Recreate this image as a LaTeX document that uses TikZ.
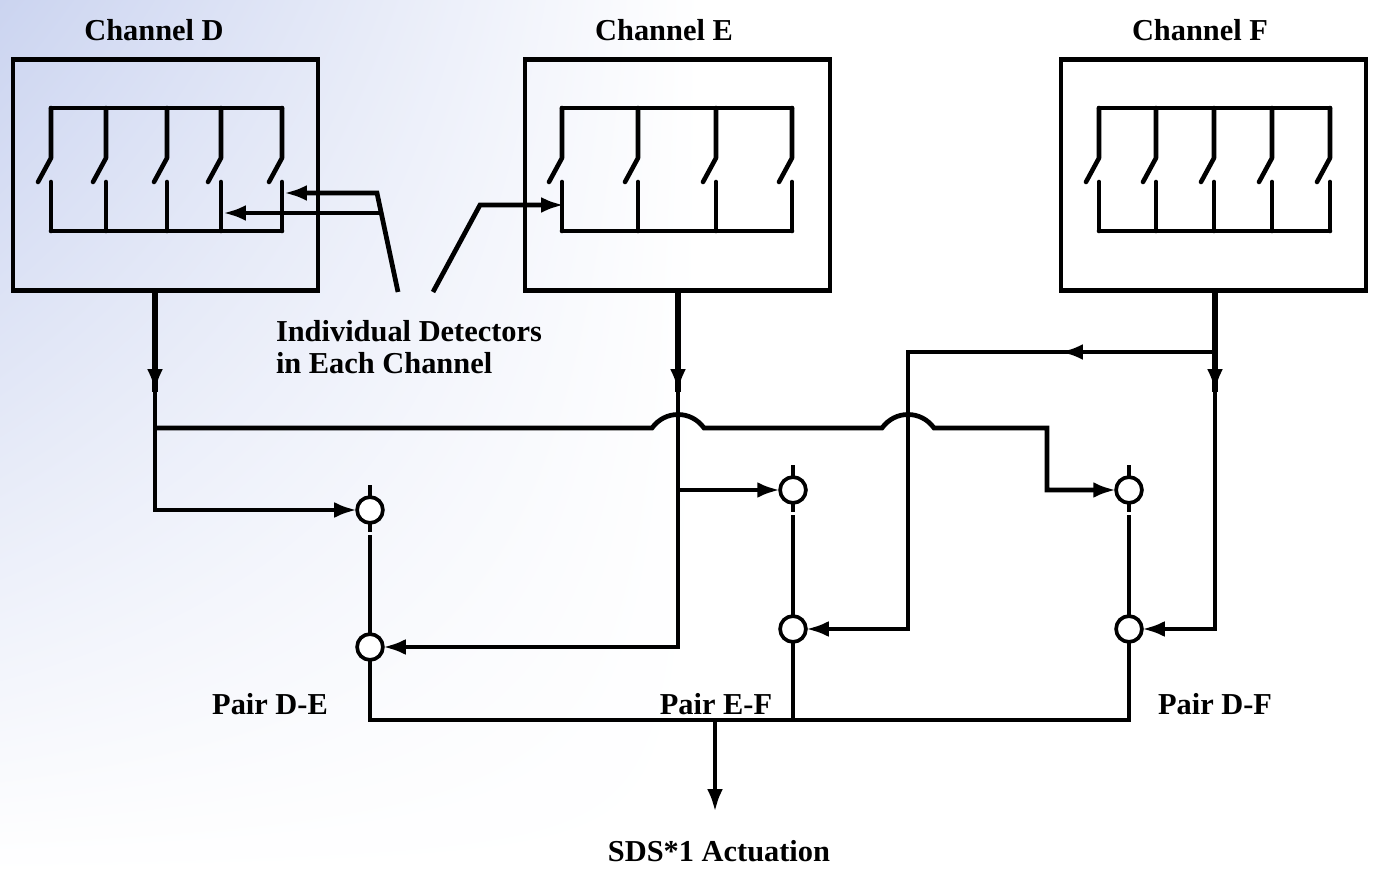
\documentclass[tikz,border=0pt]{standalone}
\usepackage{fontspec}
\setmainfont{Liberation Serif}
\usetikzlibrary{arrows.meta,shadings}

\definecolor{bgblue}{RGB}{203,212,240}

\begin{document}
\begin{tikzpicture}
[x=0.02cm,y=-0.02cm,
 every node/.style={inner sep=0mm,outer sep=0mm},
 lbl/.style={font=\fontsize{17.3}{17.8}\selectfont\bfseries},
 chbox/.style={rectangle,draw,line width=2.4pt,minimum width=174pt,minimum height=131.5pt},
 contact/.style={circle,draw,fill=white,line width=2.1pt,minimum size=14.7pt},
 wire/.style={line width=2.7pt},
 drop/.style={line width=3.6pt},
 swire/.style={line width=2.6pt,line cap=round,line join=round},
 thinwire/.style={line width=2.2pt},
 tip/.style={-{Latex[length=13pt,width=9pt]}}]
\useasboundingbox (0,0) rectangle (1373,874);
\shade[upper left=bgblue,upper right=white,lower left=white,lower right=white] (0,0) rectangle (700,874);

% channels
\node[chbox] (boxD) at (165.5,175) {};
\node[chbox] (boxE) at (677.5,175) {};
\node[chbox] (boxF) at (1213.5,175) {};
\node[lbl] (labD) at (154,30)  {Channel D};
\node[lbl] (labE) at (664,30)  {Channel E};
\node[lbl] (labF) at (1200,30) {Channel F};

% detector switches
\foreach \xa/\xb/\sw in {51/282/{51,106,167,221,282},562/792/{562,638,716,792},1099/1330/{1099,1156,1214,1272,1330}}{
  \draw[swire] (\xa,108) -- (\xb,108);
  \draw[swire] (\xa,231) -- (\xb,231);
  \foreach \x in \sw {
    \draw[swire] (\x,108) -- (\x,158) -- (\x-13,182);
    \draw[swire] (\x,182) -- (\x,231);
  }
}

% pointers to the detectors
\coordinate (swD4) at (223,213);
\coordinate (swD5) at (284,193);
\coordinate (swE1) at (564,205);
\coordinate (ptA)  at (398,292);
\coordinate (ptB)  at (377,193);
\coordinate (ptC)  at (381,213);
\coordinate (ptD)  at (433,292);
\coordinate (ptE)  at (480,205);
\draw[wire,tip] (ptA) -- (ptB) -- (swD5);
\draw[wire,tip] (ptC) -- (swD4);
\draw[wire,tip] (ptD) -- (ptE) -- (swE1);
\node[lbl,align=left,anchor=west] (labDet) at (276,347) {Individual Detectors\\in Each Channel};

% coincidence contacts
\node[contact] (deT) at (370,510) {};
\node[contact] (deB) at (370,647) {};
\node[contact] (efT) at (793,490) {};
\node[contact] (efB) at (793,629) {};
\node[contact] (dfT) at (1129,490) {};
\node[contact] (dfB) at (1129,629) {};
\foreach \c/\d in {deT/deB,efT/efB,dfT/dfB}{
  \draw[thinwire] (\c.north) -- ++(0,-12);
  \draw[thinwire] (\c.south) -- ++(0,9);
  \draw[thinwire,shorten <=7pt] (\c.south) -- (\d.north);
}

% channel outputs
\coordinate (dD0) at (155,291);
\coordinate (dD1) at (155,392);
\coordinate (dD2) at (155,428);
\coordinate (eE0) at (678,291);
\coordinate (eE1) at (678,392);
\coordinate (eE2) at (678,490);
\coordinate (fF0) at (1215,291);
\coordinate (fF1) at (1215,392);
\coordinate (fF2) at (1215,352);
\coordinate (lp0) at (908,352);
\coordinate (lp1) at (1060,352);
\coordinate (hopEa) at (652,428);
\coordinate (hopEb) at (704,428);
\coordinate (hopFa) at (882,428);
\coordinate (hopFb) at (934,428);
\coordinate (busT) at (1047,428);

\draw[drop] (dD0) -- (dD1);
\draw[wire,tip] (dD0) |- (deT);
\draw[wire,tip] (dD0) -- (dD1);
\draw[wire,tip] (dD2) -- (hopEa) .. controls +(13,-18) and +(-13,-18) .. (hopEb)
  -- (hopFa) .. controls +(13,-18) and +(-13,-18) .. (hopFb) -- (busT) |- (dfT);

\draw[drop] (eE0) -- (eE1);
\draw[wire,tip] (eE0) |- (deB);
\draw[wire,tip] (eE0) -- (eE1);
\draw[wire,tip] (eE2) -- (efT);

\draw[drop] (fF0) -- (fF1);
\draw[wire,tip] (fF0) |- (dfB);
\draw[wire,tip] (fF0) -- (fF1);
\draw[wire,tip] (fF2) -- (lp1);
\draw[wire,tip] (fF2) -- (lp0) |- (efB);

% actuation
\coordinate (busL) at (370,720);
\coordinate (busR) at (1129,720);
\coordinate (busM) at (793,720);
\coordinate (out0) at (715,720);
\coordinate (out1) at (715,812);
\draw[wire] (deB.south) -- (busL) -- (busR) -- (dfB.south);
\draw[wire] (efB.south) -- (busM);
\draw[wire,tip] (out0) -- (out1);

\node[lbl] (labDE) at (270,704)  {Pair D-E};
\node[lbl] (labEF) at (716,704)  {Pair E-F};
\node[lbl] (labDF) at (1215,704) {Pair D-F};
\node[lbl] (labSDS) at (719,851) {SDS*1 Actuation};
\end{tikzpicture}
\end{document}
